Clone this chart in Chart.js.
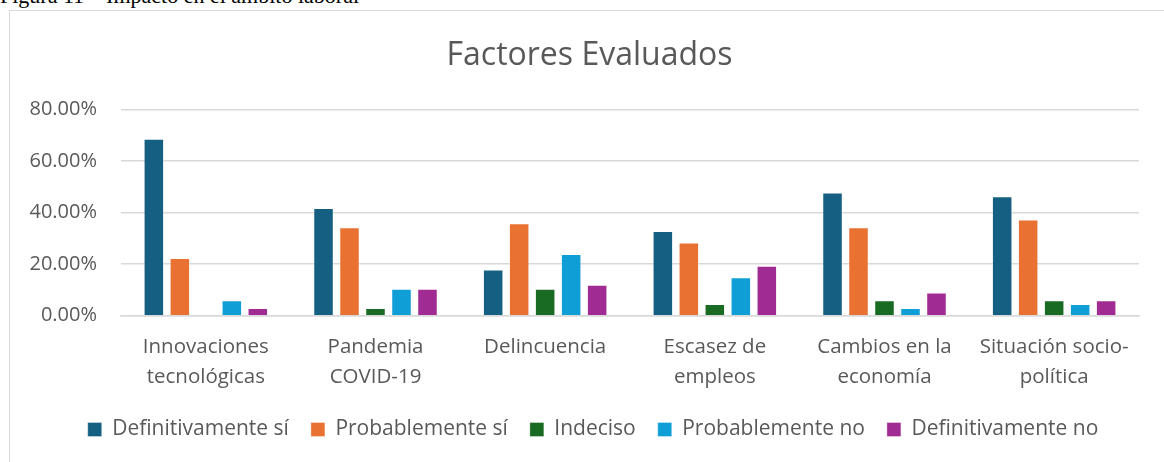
<!DOCTYPE html>
<html>
<head>
<meta charset="utf-8">
<script src="https://cdn.jsdelivr.net/npm/chart.js@4.4.0/dist/chart.umd.min.js"></script>
<style>
  body { margin: 0; background: #fff; width: 1164px; height: 462px; overflow: hidden; position: relative; }
  #caption { position: absolute; left: 0; top: -15px; font-family: "Liberation Serif", serif; font-size: 22px; line-height: 22px; color: #000; white-space: nowrap; }
  #box { position: absolute; left: 9px; top: 10px; width: 1170px; height: 470px; border: 1px solid #d9d9d9; }
  #wrap { position: absolute; left: 10px; top: 11px; width: 1154px; height: 451px; }
</style>
</head>
<body>
<div id="caption">Figura 11 – Impacto en el ámbito laboral</div>
<div id="box"></div>
<div id="wrap"><canvas id="barChart"></canvas></div>
<script>
// categorias y series (porcentajes)
var categories = [
  ['Innovaciones', 'tecnológicas'],
  ['Pandemia', 'COVID-19'],
  ['Delincuencia'],
  ['Escasez de', 'empleos'],
  ['Cambios en la', 'economía'],
  ['Situación socio-', 'política']
];
var definitivamenteSi = [68.66, 41.79, 17.91, 32.84, 47.76, 46.27];
var probablementeSi   = [22.39, 34.33, 35.82, 28.36, 34.33, 37.31];
var indeciso          = [0, 2.99, 10.45, 4.48, 5.97, 5.97];
var probablementeNo   = [5.97, 10.45, 23.88, 14.93, 2.99, 4.48];
var definitivamenteNo = [2.99, 10.45, 11.94, 19.40, 8.96, 5.97];
var yTicks = [0, 20, 40, 60, 80];

var textColor = '#595959';
var font = "'Open Sans', sans-serif";

function serie(label, data, color) {
  return {
    label: label,
    data: data,
    backgroundColor: color,
    borderColor: 'rgba(255,255,255,0.35)',
    borderWidth: 1,
    categoryPercentage: 0.766,
    barPercentage: 0.79
  };
}

// titulo y leyenda algo mas a la derecha, como en el original
var blockShift = {
  id: 'blockShift',
  afterLayout: function(chart) {
    chart.legend.left += 37;
    chart.titleBlock.left += 30;
  }
};

var ctx = document.getElementById('barChart');
new Chart(ctx, {
  type: 'bar',
  data: {
    labels: categories,
    datasets: [
      serie('Definitivamente sí', definitivamenteSi, '#156082'),
      serie('Probablemente sí', probablementeSi, '#E97132'),
      serie('Indeciso', indeciso, '#196B24'),
      serie('Probablemente no', probablementeNo, '#0F9ED5'),
      serie('Definitivamente no', definitivamenteNo, '#A02B93')
    ]
  },
  options: {
    responsive: true,
    maintainAspectRatio: false,
    animation: false,
    layout: { padding: { left: 0, right: 25, top: 0, bottom: 12 } },
    plugins: {
      title: {
        display: true,
        text: 'Factores Evaluados',
        color: textColor,
        font: { family: font, size: 32, weight: 'normal' },
        padding: { top: 26, bottom: 34 }
      },
      legend: {
        display: true,
        position: 'bottom',
        labels: {
          boxWidth: 14,
          boxHeight: 14,
          padding: 22,
          color: textColor,
          font: { family: font, size: 21 }
        }
      },
      tooltip: { enabled: false }
    },
    scales: {
      x: {
        grid: { display: false, drawTicks: false },
        border: { display: true, color: '#d9d9d9', width: 1.5 },
        afterFit: function(axis) { axis.height -= 11.5; },
        ticks: {
          color: textColor,
          font: { family: font, size: 20.5, lineHeight: 1.46 },
          padding: 16.5,
          maxRotation: 0,
          autoSkip: false
        }
      },
      y: {
        min: 0,
        max: 80,
        afterBuildTicks: function(axis) {
          axis.ticks = yTicks.map(function(v) { return { value: v }; });
        },
        afterFit: function(axis) { axis.width = 111; },
        grid: { color: '#d9d9d9', lineWidth: 1.5, drawTicks: false },
        border: { display: false },
        ticks: {
          color: textColor,
          font: { family: font, size: 20 },
          padding: 24,
          callback: function(v) { return v.toFixed(2) + '%'; }
        }
      }
    }
  },
  plugins: [blockShift]
});
</script>
</body>
</html>
